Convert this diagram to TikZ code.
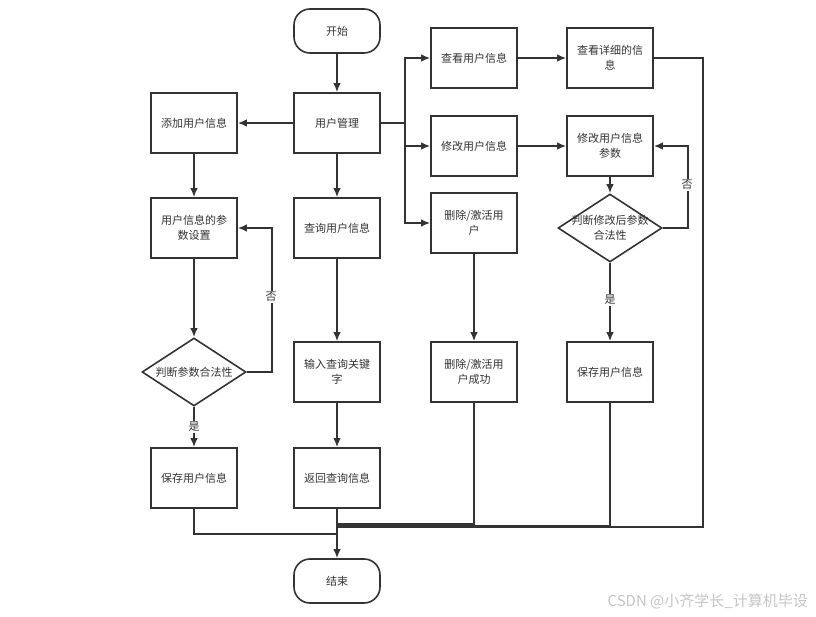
\documentclass[tikz,border=0pt]{standalone}
\usepackage{fontspec}
\setmainfont{Noto Sans CJK SC}
\usetikzlibrary{shapes.geometric,arrows.meta}
\definecolor{ln}{HTML}{333333}
\definecolor{tx}{HTML}{333333}
\definecolor{wm}{HTML}{C4C4C4}
\begin{document}
\begin{tikzpicture}[x=1pt,y=-1pt,
  box/.style={draw=ln,line width=1.6pt,minimum width=86pt,minimum height=60pt,align=center,inner sep=2pt,font=\fontsize{11}{15}\selectfont,text=tx},
  term/.style={box,rounded corners=16pt,minimum height=44pt},
  dia/.style={draw=ln,line width=1.6pt,diamond,minimum width=104pt,minimum height=68pt,inner sep=0pt},
  dtext/.style={align=center,inner sep=0pt,font=\fontsize{11}{15}\selectfont,text=tx},
  lab/.style={fill=white,inner sep=1pt,font=\fontsize{11}{13}\selectfont,text=tx},
  conn/.style={draw=ln,line width=1.6pt},
  arr/.style={conn,-{Latex[length=9pt,width=7.5pt]}}]
\useasboundingbox (0,0) rectangle (816,617);
% nodes
\node[term] (start) at (337,31) {开始};
\node[box] (um) at (337,123) {用户管理};
\node[box] (add) at (194,123) {添加用户信息};
\node[box] (ps) at (194,228) {用户信息的参\\数设置};
\node[box] (q) at (337,228) {查询用户信息};
\node[dia] (d1) at (194,372) {};
\node[dtext] (d1t) at (d1.center) {判断参数合法性};
\node[box] (save1) at (194,478) {保存用户信息};
\node[box] (kw) at (337,372) {输入查询关键\\字};
\node[box] (ret) at (337,478) {返回查询信息};
\node[term] (end) at (337,581) {结束};
\node[box] (view) at (474,58) {查看用户信息};
\node[box] (detail) at (610,58) {查看详细的信\\息};
\node[box] (mod) at (474,146) {修改用户信息};
\node[box] (modp) at (610,146) {修改用户信息\\参数};
\node[box] (del) at (474,223) {删除/激活用\\户};
\node[dia] (d2) at (610,228) {};
\node[dtext] (d2t) at (d2.center) {判断修改后参数\\合法性};
\node[box] (delok) at (474,372) {删除/激活用\\户成功};
\node[box] (save2) at (610,372) {保存用户信息};
% connectors
\draw[arr] (start) -- (um);
\draw[arr] (um) -- (add);
\draw[arr] (um) -- (q);
\draw[arr] (add) -- (ps);
\draw[arr] (ps) -- (d1.north);
\draw[arr] (d1.east) -- ++(25,0) coordinate (f1) |- (ps.east);
\node[lab] (no1) at (271,297) {否};
\draw[arr] (d1.south) -- (save1.north);
\node[lab] (yes1) at (194,427) {是};
\draw[arr] (q) -- (kw);
\draw[arr] (kw) -- (ret);
\coordinate (br) at (405,123);
\draw[conn] (um.east) -- (br);
\draw[arr] (br) |- (view.west);
\draw[arr] (br) |- (mod.west);
\draw[arr] (br) |- (del.west);
\draw[arr] (view) -- (detail);
\draw[arr] (mod) -- (modp);
\draw[arr] (modp) -- (d2.north);
\draw[arr] (d2.east) -- ++(25,0) coordinate (f2) |- (modp.east);
\node[lab] (no2) at (687,185) {否};
\draw[arr] (d2.south) -- (save2.north);
\node[lab] (yes2) at (610,300) {是};
\draw[arr] (del) -- (delok);
% merge lines
\coordinate (m1) at (337,534);
\coordinate (m2) at (337,524);
\coordinate (m3) at (337,525.5);
\coordinate (m4) at (337,527);
\draw[conn] (save1.south) |- (m1);
\draw[conn] (delok.south) |- (m2);
\draw[conn] (save2.south) |- (m3);
\draw[conn] (detail.east) -- (703,58) |- (m4);
\draw[arr] (ret) -- (end);
% watermark
\node[anchor=east,inner sep=0pt,text=wm,font=\fontsize{15}{17}\selectfont] (wmk) at (808,601) {CSDN @小齐学长\_计算机毕设};
\end{tikzpicture}
\end{document}
